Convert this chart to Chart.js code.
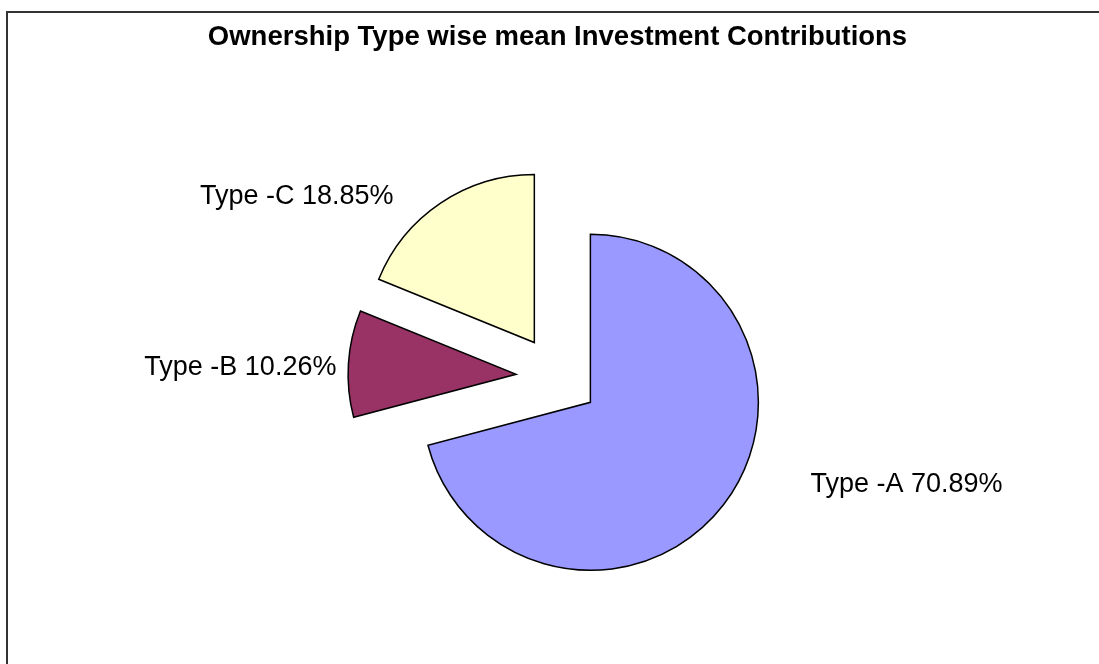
<!DOCTYPE html>
<html>
<head>
<meta charset="utf-8">
<title>Ownership Type wise mean Investment Contributions</title>
<script src="https://cdn.jsdelivr.net/npm/chart.js@4.4.1/dist/chart.umd.min.js"></script>
<style>
  html, body { margin: 0; padding: 0; background: #fff; overflow: hidden; }
  #wrap { position: relative; width: 1099px; height: 664px; overflow: hidden; }
  /* chart frame, runs off the right and bottom of the page */
  #frame {
    position: absolute; left: 6px; top: 11px; width: 2000px; height: 2000px;
    border-left: 2px solid #333; border-top: 2px solid #333;
  }
  #ownershipChart { position: absolute; left: 0; top: 0; }
</style>
</head>
<body>
<div id="wrap">
  <div id="frame"></div>
  <canvas id="ownershipChart" width="1099" height="664"></canvas>
</div>
<script>
// Mean investment contribution share by ownership type (%)
const ownershipTypes = ["Type -A", "Type -B", "Type -C"];
const contributionShare = [70.89, 10.26, 18.85];
const sliceColors = ["#9999FF", "#993366", "#FFFFCC"];

const pieRadius = 168;
const explode = 41.5;             // how far each slice is pulled out
// label placement relative to the outer middle of each slice
const labelNudge = [
  { dx: 87, dy: -20, align: "left" },
  { dx: -12, dy: 3.5, align: "right" },
  { dx: -47, dy: -7, align: "right" }
];

// Chart.js enlarges and narrows exploded arcs a little;
// undo that so every slice keeps the same radius and its true angle
const evenSlices = {
  id: "evenSlices",
  afterDatasetsUpdate(chart) {
    chart.getDatasetMeta(0).data.forEach(arc => {
      const t = (arc.options.offset || 0) / 4;
      const ro = t * (1 - Math.sin(Math.min(Math.PI, arc.circumference || 0)));
      const widen = ro / (Math.PI * pieRadius) / 2;
      arc.outerRadius = pieRadius - ro;
      arc.startAngle -= widen;
      arc.endAngle += widen;
    });
  }
};

// "Type -A 70.89%" style labels outside the slices
const sliceLabels = {
  id: "sliceLabels",
  afterDatasetsDraw(chart) {
    const ctx = chart.ctx;
    ctx.save();
    ctx.font = '27px "Liberation Sans", Arial, sans-serif';
    ctx.fillStyle = "#000";
    ctx.textBaseline = "middle";
    chart.getDatasetMeta(0).data.forEach((arc, i) => {
      const mid = (arc.startAngle + arc.endAngle) / 2;
      const t = (arc.options.offset || 0) / 4;
      const px = arc.x + Math.cos(mid) * (t + pieRadius);
      const py = arc.y + Math.sin(mid) * (t + pieRadius);
      const n = labelNudge[i];
      ctx.textAlign = n.align;
      ctx.fillText(ownershipTypes[i] + " " + contributionShare[i].toFixed(2) + "%", px + n.dx, py + n.dy);
    });
    ctx.restore();
  }
};

function init() {
  const ctx = document.getElementById("ownershipChart").getContext("2d");
  new Chart(ctx, {
    type: "pie",
    data: {
      labels: ownershipTypes,
      datasets: [{
        data: contributionShare,
        backgroundColor: sliceColors,
        borderColor: "#000",
        borderWidth: 1.5,
        borderJoinStyle: "miter",
        offset: explode * 4
      }]
    },
    options: {
      responsive: false,
      animation: false,
      events: [],
      radius: pieRadius,
      layout: { padding: { left: 16, right: 0, top: 0, bottom: 0 } },
      plugins: {
        legend: { display: false },
        tooltip: { enabled: false },
        title: {
          display: true,
          text: "Ownership Type wise mean Investment Contributions",
          color: "#000",
          font: { family: '"Liberation Sans", Arial, sans-serif', size: 27.5, weight: "bold" },
          padding: { top: 20.5, bottom: 36.5 }
        }
      }
    },
    plugins: [evenSlices, sliceLabels]
  });
}

document.addEventListener("DOMContentLoaded", init);
</script>
</body>
</html>
